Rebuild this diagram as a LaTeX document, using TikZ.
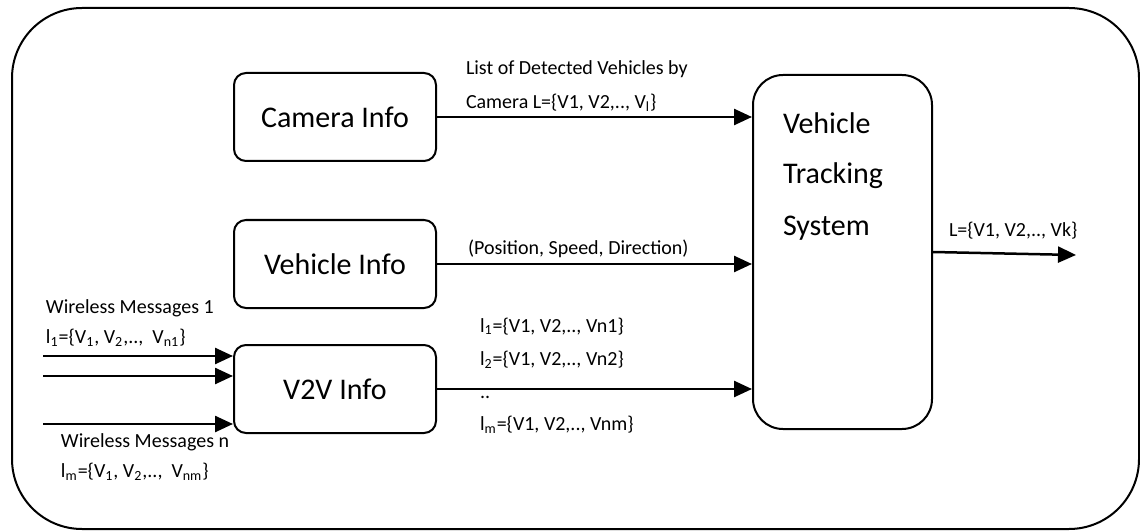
\documentclass[tikz,border=0pt]{standalone}
\usepackage{fontspec}
\setmainfont{Carlito}
\usetikzlibrary{arrows.meta,positioning}

\begin{document}
\begin{tikzpicture}[x=0.5pt,y=0.5pt,line width=1pt,
  infobox/.style={draw,rounded corners=6pt,minimum width=101pt,minimum height=44pt,inner sep=0pt,font=\fontsize{15}{18}\selectfont},
  lbl/.style={anchor=base west,inner sep=0pt,font=\fontsize{10}{12}\selectfont},
  arr/.style={line width=1.25pt,-{Triangle[length=9pt,width=8pt]}}]
\useasboundingbox (0,0) rectangle (1140,531);
% outer frame
\draw[rounded corners=35pt] (12,2) rectangle (1139,523);
% blocks
\node[infobox] (cam) at (335,414) {Camera Info};
\node[infobox] (veh) at (335,267) {Vehicle Info};
\node[infobox] (v2v) at (335,142) {V2V Info};
\node[draw,rounded corners=15pt,minimum width=89.5pt,minimum height=177pt,inner sep=0pt] (vts) at (842.5,279) {};
\node[anchor=base west,inner sep=0pt,align=left,font=\fontsize{15}{25.5}\selectfont] (vtstext) at (782,296) {Vehicle\\Tracking\\System};
% free ends
\coordinate (in1) at (43,175);
\coordinate (in2) at (43,155);
\coordinate (in3) at (43,107);
\coordinate (out) at (1076,276);
% connectors
\draw[arr] (cam.east) -- (cam.east -| vts.west);
\draw[arr] (veh.east) -- (veh.east -| vts.west);
\draw[arr] (v2v.east) -- (v2v.east -| vts.west);
\draw[arr] (in1) -- (in1 -| v2v.west);
\draw[arr] (in2) -- (in2 -| v2v.west);
\draw[arr] (in3) -- (in3 -| v2v.west);
\draw[arr] (vts.east |- 0,279) -- (out);
% labels
\node[lbl] (camlbl1) at (465,456) {List of Detected Vehicles by};
\node[lbl] (camlbl2) at (465,422) {Camera L=\{V1, V2,.., V\textsubscript{l}\}};
\node[lbl] (vehlbl) at (467,277) {(Position, Speed, Direction)};
\node[lbl] (v2vlbl1) at (479,199) {l\textsubscript{1}=\{V1, V2,.., Vn1\}};
\node[lbl] (v2vlbl2) at (479,166) {l\textsubscript{2}=\{V1, V2,.., Vn2\}};
\node[lbl] (v2vlbl3) at (479,133) {..};
\node[lbl] (v2vlbl4) at (479,101) {l\textsubscript{m}=\{V1, V2,.., Vnm\}};
\node[lbl] (wm1) at (45,218) {Wireless Messages 1};
\node[lbl] (wm1set) at (45,188) {l\textsubscript{1}=\{V\textsubscript{1}, V\textsubscript{2},..,\ \ V\textsubscript{n1}\}};
\node[lbl] (wmn) at (60,84) {Wireless Messages n};
\node[lbl] (wmnset) at (60,54) {l\textsubscript{m}=\{V\textsubscript{1}, V\textsubscript{2},.., \ V\textsubscript{nm}\}};
\node[lbl] (outlbl) at (948,294) {L=\{V1, V2,.., Vk\}};
\end{tikzpicture}
\end{document}
